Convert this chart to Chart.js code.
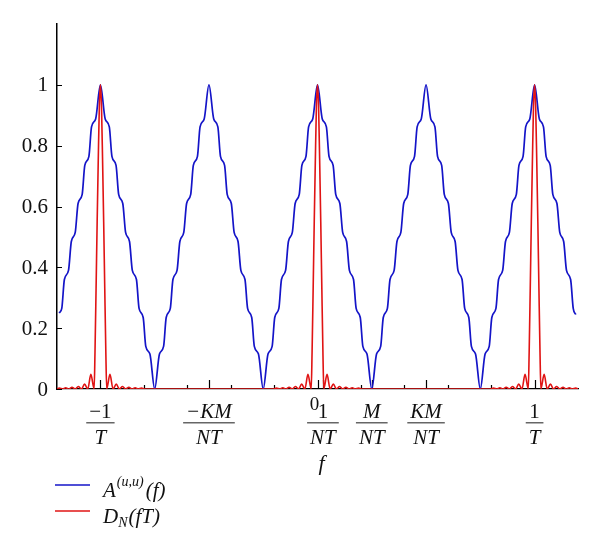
<!DOCTYPE html>
<html>
<head>
<meta charset="utf-8">
<script src="https://cdn.jsdelivr.net/npm/chart.js@4.4.1/dist/chart.umd.min.js"></script>
<style>
  body { margin: 0; background: #fff; }
</style>
</head>
<body>
<canvas id="myChart" width="600" height="548"></canvas>
<script>
// A^(u,u)(f) (x in units of 1/T)
const blueX = [
  -1.19, -1.178, -1.166, -1.147, -1.134, -1.116, -1.103, -1.084, -1.072, -1.053, -1.041, -1.022, -1,
  -0.978, -0.959, -0.947, -0.928, -0.916, -0.897, -0.884, -0.866, -0.853, -0.834, -0.822, -0.803, -0.791, -0.772, -0.75,
  -0.728, -0.709, -0.697, -0.678, -0.666, -0.647, -0.634, -0.616, -0.603, -0.584, -0.572, -0.553, -0.541, -0.522, -0.5,
  -0.478, -0.459, -0.447, -0.428, -0.416, -0.397, -0.384, -0.366, -0.353, -0.334, -0.322, -0.303, -0.291, -0.272, -0.25,
  -0.228, -0.209, -0.197, -0.178, -0.166, -0.147, -0.134, -0.116, -0.103, -0.084, -0.072, -0.053, -0.041, -0.022, 0,
  0.022, 0.041, 0.053, 0.072, 0.084, 0.103, 0.116, 0.134, 0.147, 0.166, 0.178, 0.197, 0.209, 0.228, 0.25,
  0.272, 0.291, 0.303, 0.322, 0.334, 0.353, 0.366, 0.384, 0.397, 0.416, 0.428, 0.447, 0.459, 0.478, 0.5,
  0.522, 0.541, 0.553, 0.572, 0.584, 0.603, 0.616, 0.634, 0.647, 0.666, 0.678, 0.697, 0.709, 0.728, 0.75,
  0.772, 0.791, 0.803, 0.822, 0.834, 0.853, 0.866, 0.884, 0.897, 0.916, 0.928, 0.947, 0.959, 0.978, 1,
  1.022, 1.041, 1.053, 1.072, 1.084, 1.103, 1.116, 1.134, 1.147, 1.166, 1.178, 1.19
];
const blueY = [
  0.25, 0.265, 0.36, 0.39, 0.485, 0.515, 0.61, 0.64, 0.735, 0.765, 0.862, 0.888, 1,
  0.888, 0.862, 0.765, 0.735, 0.64, 0.61, 0.515, 0.485, 0.39, 0.36, 0.265, 0.235, 0.14, 0.115, 0,
  0.115, 0.14, 0.235, 0.265, 0.36, 0.39, 0.485, 0.515, 0.61, 0.64, 0.735, 0.765, 0.862, 0.888, 1,
  0.888, 0.862, 0.765, 0.735, 0.64, 0.61, 0.515, 0.485, 0.39, 0.36, 0.265, 0.235, 0.14, 0.115, 0,
  0.115, 0.14, 0.235, 0.265, 0.36, 0.39, 0.485, 0.515, 0.61, 0.64, 0.735, 0.765, 0.862, 0.888, 1,
  0.888, 0.862, 0.765, 0.735, 0.64, 0.61, 0.515, 0.485, 0.39, 0.36, 0.265, 0.235, 0.14, 0.115, 0,
  0.115, 0.14, 0.235, 0.265, 0.36, 0.39, 0.485, 0.515, 0.61, 0.64, 0.735, 0.765, 0.862, 0.888, 1,
  0.888, 0.862, 0.765, 0.735, 0.64, 0.61, 0.515, 0.485, 0.39, 0.36, 0.265, 0.235, 0.14, 0.115, 0,
  0.115, 0.14, 0.235, 0.265, 0.36, 0.39, 0.485, 0.515, 0.61, 0.64, 0.735, 0.765, 0.862, 0.888, 1,
  0.888, 0.862, 0.765, 0.735, 0.64, 0.61, 0.515, 0.485, 0.39, 0.36, 0.265, 0.245
];

// D_N(fT)
const redX = [
  -1.203, -1.189, -1.174, -1.16, -1.145, -1.131, -1.116, -1.102, -1.087, -1.073, -1.058, -1.044, -1.029,
  -1.025, -1.02, -1.015, -1.01, -1.005, -1, -0.995, -0.99, -0.985, -0.98, -0.975,
  -0.971, -0.956, -0.942, -0.927, -0.913, -0.898, -0.884, -0.869, -0.855, -0.84, -0.826, -0.811, -0.797,
  -0.203, -0.189, -0.174, -0.16, -0.145, -0.131, -0.116, -0.102, -0.087, -0.073, -0.058, -0.044, -0.029,
  -0.025, -0.02, -0.015, -0.01, -0.005, 0, 0.005, 0.01, 0.015, 0.02, 0.025,
  0.029, 0.044, 0.058, 0.073, 0.087, 0.102, 0.116, 0.131, 0.145, 0.16, 0.174, 0.189, 0.203,
  0.797, 0.811, 0.826, 0.84, 0.855, 0.869, 0.884, 0.898, 0.913, 0.927, 0.942, 0.956, 0.971,
  0.975, 0.98, 0.985, 0.99, 0.995, 1, 1.005, 1.01, 1.015, 1.02, 1.025,
  1.029, 1.044, 1.058, 1.073, 1.087, 1.102, 1.116, 1.131, 1.145, 1.16, 1.174, 1.189, 1.203
];
const redY = [
  0, 0.003, 0, 0.004, 0, 0.006, 0, 0.008, 0, 0.016, 0, 0.048, 0,
  0.12, 0.33, 0.55, 0.75, 0.93, 1, 0.93, 0.75, 0.55, 0.33, 0.12,
  0, 0.048, 0, 0.016, 0, 0.008, 0, 0.006, 0, 0.004, 0, 0.003, 0,
  0, 0.003, 0, 0.004, 0, 0.006, 0, 0.008, 0, 0.016, 0, 0.048, 0,
  0.12, 0.33, 0.55, 0.75, 0.93, 1, 0.93, 0.75, 0.55, 0.33, 0.12,
  0, 0.048, 0, 0.016, 0, 0.008, 0, 0.006, 0, 0.004, 0, 0.003, 0,
  0, 0.003, 0, 0.004, 0, 0.006, 0, 0.008, 0, 0.016, 0, 0.048, 0,
  0.12, 0.33, 0.55, 0.75, 0.93, 1, 0.93, 0.75, 0.55, 0.33, 0.12,
  0, 0.048, 0, 0.016, 0, 0.008, 0, 0.006, 0, 0.004, 0, 0.003, 0
];

const yTicks = [0, 0.2, 0.4, 0.6, 0.8, 1];
const yTickLabels = ['0', '0.2', '0.4', '0.6', '0.8', '1'];
const xMajorTicks = [-1, -0.5, 0, 0.025, 0.25, 0.5, 1];
const xMinorTicks = [-0.8, -0.6, -0.4, -0.2, 0.2, 0.4, 0.6, 0.8];
const xLabelPos = [-1, -0.5, 0.025, 0.25, 0.5, 1];
const xLabelNum = ['\u22121', '\u2212KM', '1', 'M', 'KM', '1'];
const xLabelDen = ['T', 'NT', 'NT', 'NT', 'NT', 'T'];

const BLUE = '#1414c8';
const RED = '#e01414';
const SERIF = '"Liberation Serif", "DejaVu Serif", serif';

let ctx = document.getElementById('myChart');

const decor = {
  id: 'decor',
  beforeDatasetsDraw(chart) {
    const c = chart.ctx, xs = chart.scales.x, ys = chart.scales.y;
    const base = ys.getPixelForValue(0);
    const left = chart.chartArea.left;
    c.save();
    c.strokeStyle = '#000';
    c.lineWidth = 1.2;
    c.beginPath();
    xMajorTicks.forEach(v => {
      const px = Math.round(xs.getPixelForValue(v)) + 0.5;
      c.moveTo(px, base); c.lineTo(px, base - 9);
    });
    xMinorTicks.forEach(v => {
      const px = Math.round(xs.getPixelForValue(v)) + 0.5;
      c.moveTo(px, base); c.lineTo(px, base - 4);
    });
    yTicks.forEach(v => {
      const py = Math.round(ys.getPixelForValue(v)) + 0.5;
      c.moveTo(left, py); c.lineTo(left + 5, py);
    });
    c.stroke();
    c.restore();
  },
  afterDraw(chart) {
    const c = chart.ctx, xs = chart.scales.x, ys = chart.scales.y;
    const left = chart.chartArea.left;
    c.save();
    c.fillStyle = '#111';
    // y labels
    c.font = '21px ' + SERIF;
    c.textAlign = 'right';
    c.textBaseline = 'middle';
    yTicks.forEach((v, i) => {
      c.fillText(yTickLabels[i], left - 9, ys.getPixelForValue(v) + 1);
    });
    // x fraction labels
    c.textAlign = 'center';
    c.textBaseline = 'alphabetic';
    xLabelPos.forEach((v, i) => {
      const px = xs.getPixelForValue(v);
      const num = xLabelNum[i], den = xLabelDen[i];
      c.font = (/[A-Z]/.test(num) ? 'italic ' : '') + '21px ' + SERIF;
      const wn = c.measureText(num).width;
      c.fillText(num, px, 418);
      c.font = 'italic 21px ' + SERIF;
      const wd = c.measureText(den).width;
      c.fillText(den, px, 444);
      const w = Math.max(wn, wd) + 6;
      c.fillStyle = '#666';
      c.fillRect(px - w / 2, 422, w, 1.5);
      c.fillStyle = '#111';
    });
    // the "0" label
    c.font = '19px ' + SERIF;
    c.fillText('0', xs.getPixelForValue(0) - 3, 410);
    // axis title
    c.font = 'italic 22px ' + SERIF;
    c.fillText('f', xs.getPixelForValue(0) + 4, 470);
    // legend
    c.lineWidth = 1.5;
    c.strokeStyle = BLUE;
    c.beginPath(); c.moveTo(55, 485); c.lineTo(90, 485); c.stroke();
    c.strokeStyle = RED;
    c.beginPath(); c.moveTo(55, 511); c.lineTo(90, 511); c.stroke();
    c.textAlign = 'left';
    c.font = 'italic 21px ' + SERIF;
    c.fillText('A', 103, 497);
    const wA = c.measureText('A').width;
    c.font = 'italic 14px ' + SERIF;
    c.fillText('(u,u)', 103 + wA + 1, 486);
    const wS = c.measureText('(u,u)').width;
    c.font = 'italic 21px ' + SERIF;
    c.fillText('(f)', 103 + wA + wS + 3, 497);
    c.fillText('D', 103, 523);
    const wD = c.measureText('D').width;
    c.font = 'italic 14px ' + SERIF;
    c.fillText('N', 103 + wD, 527);
    const wN = c.measureText('N').width;
    c.font = 'italic 21px ' + SERIF;
    c.fillText('(fT)', 103 + wD + wN + 1, 523);
    c.restore();
  }
};

new Chart(ctx, {
  type: 'line',
  data: {
    datasets: [{
      label: 'D_N(fT)',
      data: redX.map((x, i) => ({ x: x, y: redY[i] })),
      borderColor: RED,
      borderWidth: 1.6,
      pointRadius: 0,
      cubicInterpolationMode: 'monotone',
      order: 0
    }, {
      label: 'A(u,u)(f)',
      data: blueX.map((x, i) => ({ x: x, y: blueY[i] })),
      borderColor: BLUE,
      borderWidth: 1.7,
      pointRadius: 0,
      cubicInterpolationMode: 'monotone',
      order: 1
    }]
  },
  options: {
    responsive: false,
    animation: false,
    layout: { padding: { left: 49, right: 22, top: 24, bottom: 151 } },
    plugins: { legend: { display: false }, tooltip: { enabled: false } },
    scales: {
      x: {
        type: 'linear', min: -1.2, max: 1.2,
        ticks: { display: false },
        grid: { display: false },
        border: { display: true, color: '#000', width: 1.2 }
      },
      y: {
        min: 0, max: 1.2,
        ticks: { display: false },
        grid: { display: false },
        border: { display: true, color: '#000', width: 1.5 }
      }
    }
  },
  plugins: [decor]
});
</script>
</body>
</html>
